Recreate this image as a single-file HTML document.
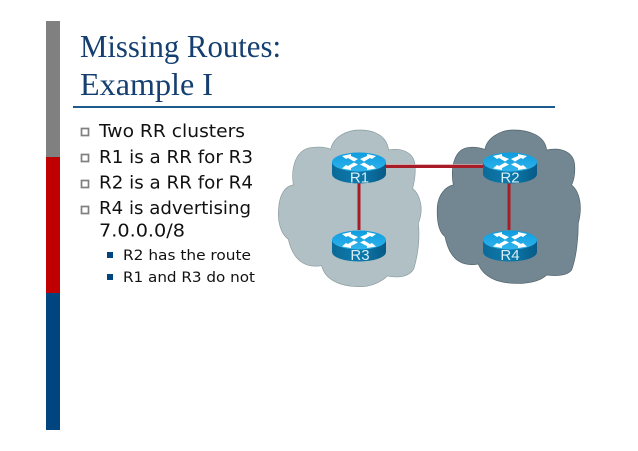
<!DOCTYPE html>
<html><head><meta charset="utf-8"><style>
html,body{margin:0;padding:0;background:#fff}
svg{display:block}
</style></head><body>
<svg width="638" height="451" viewBox="0 0 638 451" xmlns="http://www.w3.org/2000/svg">
<defs>
<linearGradient id="top" x1="0" y1="0" x2="0" y2="1"><stop offset="0" stop-color="#0f9cdf"/><stop offset="1" stop-color="#2fb4ec"/></linearGradient>
<linearGradient id="side" x1="0" y1="0" x2="1" y2="0"><stop offset="0" stop-color="#0b6a98"/><stop offset=".5" stop-color="#0c7bae"/><stop offset="1" stop-color="#075a86"/></linearGradient>
<g id="router">
<path d="M-27 0 V12 A27 9.5 0 0 0 27 12 V0 Z" fill="url(#side)"/>
<ellipse cx="0" cy="0" rx="27" ry="9.5" fill="url(#top)"/>
<g fill="#fff">
<path d="M-17 -6 L-8 -8 L-8 -6 L-1 -3 L-5 -.5 L-11 -4 L-13 -3 Z"/>
<path d="M17 -6 L8 -8 L8 -6 L1 -3 L5 -.5 L11 -4 L13 -3 Z"/>
<path d="M-17 6.500 L-8 8 L-8 6 L-1 2.500 L-5 .5 L-11 4 L-13 3 Z"/>
<path d="M17 6.500 L8 8 L8 6 L1 2.500 L5 .5 L11 4 L13 3 Z"/>
</g>
</g>
</defs>

<rect x="46" y="21" width="14" height="136" fill="#808080"/>
<rect x="46" y="157" width="14" height="136" fill="#c00000"/>
<rect x="46" y="293" width="14" height="137" fill="#004480"/>

<g font-family="'Liberation Serif',serif" fill="#143f70" font-size="32">
<text x="80" y="57" textLength="201" lengthAdjust="spacingAndGlyphs">Missing Routes:</text>
<text x="80" y="95" textLength="133" lengthAdjust="spacingAndGlyphs">Example I</text>
</g>
<rect x="73" y="106" width="482" height="2" fill="#1f5a8c"/>

<g fill="none" stroke="#7f7f7f" stroke-width="1.7">
<rect x="81.500" y="128.500" width="7" height="7"/>
<rect x="81.500" y="154.500" width="7" height="7"/>
<rect x="81.500" y="180.500" width="7" height="7"/>
<rect x="81.500" y="206.500" width="7" height="7"/>
</g>
<rect x="107" y="252" width="6" height="6" fill="#004480"/>
<rect x="107" y="274" width="6" height="6" fill="#004480"/>

<g font-family="'DejaVu Sans',sans-serif" fill="#111" font-size="17.500">
<text x="99" y="137" textLength="146" lengthAdjust="spacingAndGlyphs">Two RR clusters</text>
<text x="99" y="163" textLength="154" lengthAdjust="spacingAndGlyphs">R1 is a RR for R3</text>
<text x="99" y="188.500" textLength="154" lengthAdjust="spacingAndGlyphs">R2 is a RR for R4</text>
<text x="99" y="214" textLength="152" lengthAdjust="spacingAndGlyphs">R4 is advertising</text>
<text x="99" y="236.500" textLength="86" lengthAdjust="spacingAndGlyphs">7.0.0.0/8</text>
</g>
<g font-family="'DejaVu Sans',sans-serif" fill="#111" font-size="14.500">
<text x="123" y="260" textLength="128" lengthAdjust="spacingAndGlyphs">R2 has the route</text>
<text x="123" y="282" textLength="132" lengthAdjust="spacingAndGlyphs">R1 and R3 do not</text>
</g>

<g transform="translate(270 120) scale(.3333)">
<path d="M70 195 C62 140 78 85 130 82 C150 80 170 82 182 88 C190 50 230 30 270 30 C310 30 350 45 356 90 C400 82 432 100 435 135 C438 165 432 190 428 205 C452 225 462 270 445 310 C450 350 445 400 432 445 C420 470 385 475 352 468 C330 490 295 502 262 500 C210 498 165 480 155 437 C110 445 70 425 55 358 C30 340 22 300 26 265 C28 225 45 198 70 195 Z" fill="#b0c0c4" stroke="#8a9a9e" stroke-width="2"/>
<path d="M550 195 C542 150 548 85 600 82 C620 80 635 85 645 88 C650 55 690 30 730 30 C775 30 825 45 830 90 C880 80 912 100 914 135 C916 160 912 180 905 195 C930 215 938 260 925 310 C925 350 920 410 905 450 C890 470 855 468 830 465 C810 485 770 492 730 490 C680 488 640 470 625 432 C580 440 540 425 525 350 C505 335 500 300 502 260 C505 225 525 200 550 195 Z" fill="#728791" stroke="#50626b" stroke-width="2"/>
</g>

<rect x="384" y="164" width="100" height="1.500" fill="#e0a0a0" opacity=".7"/>
<rect x="384" y="165" width="100" height="3" fill="#a81c28"/>
<rect x="357.500" y="182" width="3" height="48" fill="#a81c28"/>
<rect x="507.500" y="182" width="3" height="48" fill="#a81c28"/>

<use href="#router" x="359" y="162"/>
<use href="#router" x="510" y="162"/>
<use href="#router" x="359" y="240"/>
<use href="#router" x="510" y="240"/>

<g font-family="'Liberation Sans',sans-serif" fill="#d8eef8" font-size="15" text-anchor="middle">
<text x="359.500" y="182.500">R1</text>
<text x="510" y="182.500">R2</text>
<text x="360" y="260">R3</text>
<text x="510" y="260">R4</text>
</g>
</svg>
</body></html>
